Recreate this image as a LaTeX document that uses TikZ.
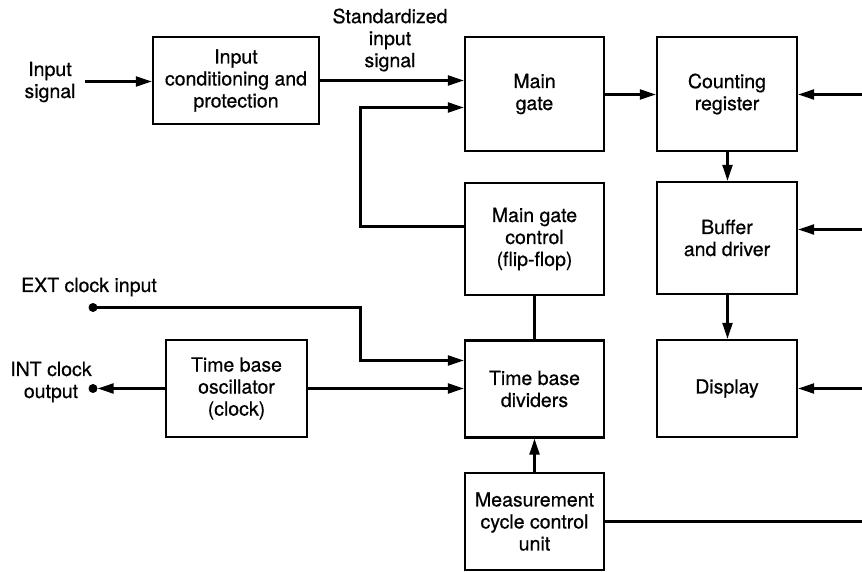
\documentclass[tikz,border=0pt]{standalone}
\usepackage{fontspec}
\setmainfont[FakeBold=0.6]{TeX Gyre Heros}
\usetikzlibrary{arrows.meta,calc}

\tikzset{
  block/.style={draw, line width=2.4pt, rectangle, align=center, inner sep=0pt},
  lbl/.style={align=center, inner sep=0pt},
  wire/.style={line width=2.3pt},
  flow/.style={line width=2.3pt, -{Triangle[length=16pt,width=10pt]}},
  pin/.style={circle, fill=black, inner sep=0pt, minimum size=9pt},
}

\begin{document}
\begin{tikzpicture}[x=1pt, y=-1pt, font=\fontsize{19.5}{22}\selectfont]
  \useasboundingbox (0,0) rectangle (862,572);

  % processing blocks
  \node[block, minimum width=166pt, minimum height=87pt] (inp) at (236,80.5)
    {Input\\conditioning and\\protection};
  \node[block, minimum width=139pt, minimum height=114pt] (gate) at (534.5,94)
    {Main\\gate};
  \node[block, minimum width=139pt, minimum height=112pt] (ctrl) at (534.5,239)
    {Main gate\\control\\(flip-flop)};
  \node[block, minimum width=139pt, minimum height=97pt] (div) at (534.5,389)
    {Time base\\dividers};
  \node[block, minimum width=139pt, minimum height=97pt] (meas) at (534.5,521.5)
    {Measurement\\cycle control\\unit};
  \node[block, minimum width=141pt, minimum height=97pt] (osc) at (236.5,388.5)
    {Time base\\oscillator\\(clock)};
  \node[block, minimum width=140pt, minimum height=114pt] (count) at (727,94)
    {Counting\\register};
  \node[block, minimum width=140pt, minimum height=112pt] (buf) at (727,238)
    {Buffer\\and driver};
  \node[block, minimum width=140pt, minimum height=97pt] (disp) at (727,388.5)
    {Display};

  % labels
  \node[lbl] (insig) at (50,82) {Input\\signal};
  \node[lbl] (std) at (390,40) {Standardized\\input\\signal};
  \node[lbl, anchor=west] (ext) at (21,287) {EXT clock input};
  \node[lbl] (intc) at (51,382) {INT clock\\output};

  % terminals and bends
  \coordinate (inS) at (85,81.5);
  \node[pin] (extpin) at (93,307.5) {};
  \node[pin] (intpin) at (93,388.5) {};
  \coordinate (fbTop) at (360.5,107.5);
  \coordinate (fbBot) at (360.5,226.5);
  \coordinate (extBend) at (360.5,307.5);
  \coordinate (extIn) at (360.5,360.5);
  \coordinate (r1) at (862,94.5);
  \coordinate (r2) at (862,229.5);
  \coordinate (r3) at (862,388.5);
  \coordinate (r4) at (862,521.5);

  % signal path
  \draw[flow] (inS) -- (inS -| inp.west);
  \draw[flow] (inp.east) -- (inp.east -| gate.west);
  \draw[flow] ([yshift=-0.5pt]gate.east) -- ([yshift=-0.5pt]gate.east -| count.west);
  \draw[flow] ([xshift=0.5pt]count.south) -- ([xshift=0.5pt]buf.north);
  \draw[flow] ([xshift=0.5pt]buf.south) -- ([xshift=0.5pt]disp.north);

  % gate control loop
  \draw[flow] (fbBot -| ctrl.west) -- (fbBot) -- (fbTop) -- (fbTop -| gate.west);
  \draw[wire] (ctrl.south) -- (div.north);
  \draw[flow] (meas.north) -- (div.south);

  % clock paths
  \draw[flow] (extpin.center) -- (extBend) -- (extIn) -- (extIn -| div.west);
  \draw[flow] (osc.east) -- (osc.east -| div.west);
  \draw[flow] (osc.west) -- (intpin.east);

  % control lines from the right
  \draw[flow] (r1) -- (r1 -| count.east);
  \draw[flow] (r2) -- (r2 -| buf.east);
  \draw[flow] (r3) -- (r3 -| disp.east);
  \draw[wire] (meas.east) -- (r4);
\end{tikzpicture}
\end{document}
